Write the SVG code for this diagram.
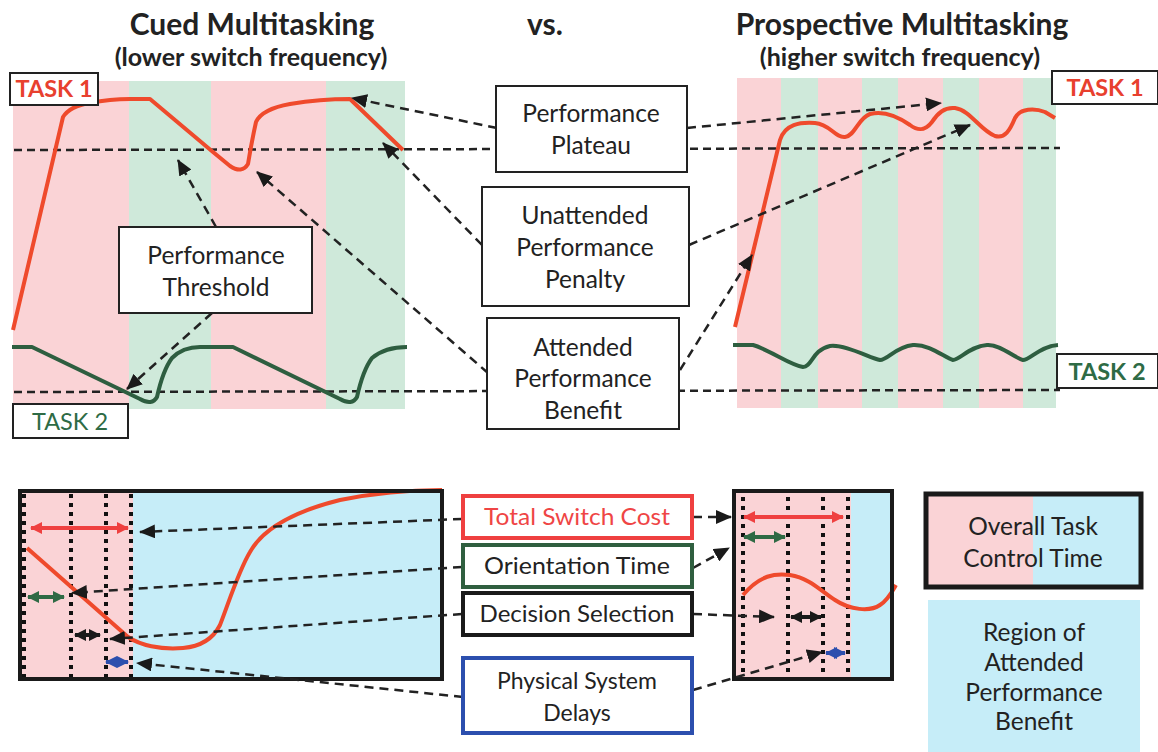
<svg xmlns="http://www.w3.org/2000/svg" width="1158" height="752" viewBox="0 0 1158 752">
<style>
text{font-family:Lato,"Open Sans","Liberation Sans",sans-serif;fill:#222;}
.t{font-size:24.5px;text-anchor:middle;}
.b{font-size:23px;text-anchor:middle;}
.title{font-size:30px;font-weight:bold;text-anchor:middle;}
.sub{font-size:25px;font-weight:bold;text-anchor:middle;}
.tk{font-size:23.5px;text-anchor:middle;}
.box{fill:#fff;stroke:#222;stroke-width:2;}
.pink{fill:#fad3d6;}
.green{fill:#cfe9da;}
.blue{fill:#c6edf8;}
.hd{fill:none;stroke:#222;stroke-width:2.5;stroke-dasharray:8 5;}
.ar{fill:none;stroke:#222;stroke-width:2.5;stroke-dasharray:9 6;marker-end:url(#ah);}
.red{fill:none;stroke:#ef4a2c;stroke-width:4;stroke-linejoin:round;}
.grn{fill:none;stroke:#2e5e40;stroke-width:4;stroke-linejoin:round;}
.dot{stroke:#111;stroke-width:4;stroke-dasharray:4 5;}
</style>
<defs>
<marker id="ah" markerUnits="userSpaceOnUse" markerWidth="16" markerHeight="14" viewBox="0 0 16 14" refX="15" refY="7" orient="auto"><path d="M0,0 L16,7 L0,14 z" fill="#1a1a1a"/></marker>
<marker id="dr" markerUnits="userSpaceOnUse" markerWidth="12" markerHeight="12" viewBox="0 0 12 12" refX="11" refY="6" orient="auto-start-reverse"><path d="M0,0 L12,6 L0,12 z" fill="#ef4040"/></marker>
<marker id="dg" markerUnits="userSpaceOnUse" markerWidth="12" markerHeight="12" viewBox="0 0 12 12" refX="11" refY="6" orient="auto-start-reverse"><path d="M0,0 L12,6 L0,12 z" fill="#2f6a45"/></marker>
<marker id="dk" markerUnits="userSpaceOnUse" markerWidth="12" markerHeight="12" viewBox="0 0 12 12" refX="11" refY="6" orient="auto-start-reverse"><path d="M0,0 L12,6 L0,12 z" fill="#1a1a1a"/></marker>
<marker id="db" markerUnits="userSpaceOnUse" markerWidth="12" markerHeight="12" viewBox="0 0 12 12" refX="11" refY="6" orient="auto-start-reverse"><path d="M0,0 L12,6 L0,12 z" fill="#2c4fae"/></marker>
</defs>

<g id="titles">
<text class="title" x="252" y="35">Cued Multitasking</text>
<text class="sub" x="251" y="66">(lower switch frequency)</text>
<text class="title" x="545" y="35">vs.</text>
<text class="title" x="902" y="35">Prospective Multitasking</text>
<text class="sub" x="900" y="66">(higher switch frequency)</text>
</g>

<g id="cued-panel">
<rect class="pink" x="13" y="81" width="116" height="328"/>
<rect class="green" x="129" y="81" width="82" height="328"/>
<rect class="pink" x="211" y="81" width="115" height="328"/>
<rect class="green" x="326" y="81" width="79" height="328"/>
</g>
<g id="prospective-panel">
<rect class="pink" x="737" y="78" width="44" height="330"/>
<rect class="green" x="781" y="78" width="37" height="330"/>
<rect class="pink" x="818" y="78" width="44" height="330"/>
<rect class="green" x="862" y="78" width="36" height="330"/>
<rect class="pink" x="898" y="78" width="45" height="330"/>
<rect class="green" x="943" y="78" width="36" height="330"/>
<rect class="pink" x="979" y="78" width="44" height="330"/>
<rect class="green" x="1023" y="78" width="33" height="330"/>
</g>

<g id="thresholds">
<line class="hd" x1="14" y1="150" x2="1060" y2="148"/>
<line class="hd" x1="14" y1="392" x2="1060" y2="390"/>
</g>

<g id="curves">
<path class="red" d="M13,330 L63,117 Q70,106 90,103 Q110,99 130,99 L150,99 L213,152 L230,166 Q242,174 248,164 Q252,140 256,122 Q262,109 290,104 Q320,99 350,99 L403,150"/>
<path class="grn" d="M12,347 L32,347 L140,399 Q152,406 157,397 Q163,370 172,358 Q183,347 200,347 L233,347 L340,399 Q352,406 357,397 Q363,370 372,358 Q385,347 407,347"/>
<path class="red" d="M735,327 L780,140 C785,124 800,122 815,123 C830,124 835,138 845,137 C855,136 858,118 870,114 C885,110 900,118 910,125 C918,131 925,131 932,122 C938,112 945,107 955,108 C970,110 980,130 995,136 C1005,139 1010,130 1015,118 C1020,108 1035,108 1045,112 L1055,118"/>
<path class="grn" d="M733,345 L753,345 C770,350 790,365 803,367 C812,367 812,350 830,346 C845,344 870,358 880,360 C888,360 895,347 913,345 C930,344 945,358 953,360 C960,360 970,346 987,345 C1000,344 1015,358 1023,360 C1030,360 1040,346 1058,345"/>
</g>

<g id="cued-switch-panel">
<rect class="pink" x="20" y="492" width="113" height="186"/>
<rect class="blue" x="133" y="492" width="308" height="186"/>
<line class="dot" x1="24" y1="494" x2="24" y2="678"/>
<line class="dot" x1="71" y1="494" x2="71" y2="678"/>
<line class="dot" x1="106" y1="494" x2="106" y2="678"/>
<line class="dot" x1="131" y1="494" x2="131" y2="678"/>
<path class="red" d="M27,548 L128,637 C140,645 160,650 183,648 C205,646 215,635 220,625 C228,605 238,572 250,552 C265,525 300,510 340,500 C380,492 420,490 442,490"/>
<line x1="31" y1="528" x2="128" y2="528" stroke="#ef4040" stroke-width="4" marker-start="url(#dr)" marker-end="url(#dr)"/>
<line x1="28" y1="597" x2="64" y2="597" stroke="#2f6a45" stroke-width="4" marker-start="url(#dg)" marker-end="url(#dg)"/>
<line x1="75" y1="635" x2="100" y2="635" stroke="#1a1a1a" stroke-width="4" marker-start="url(#dk)" marker-end="url(#dk)"/>
<line x1="106" y1="662" x2="128" y2="662" stroke="#2c4fae" stroke-width="4" marker-start="url(#db)" marker-end="url(#db)"/>
<rect x="20" y="491" width="422" height="188" fill="none" stroke="#1a1a1a" stroke-width="4"/>
</g>

<g id="prospective-switch-panel">
<rect class="pink" x="735" y="492" width="116" height="186"/>
<rect class="blue" x="851" y="492" width="40" height="186"/>
<line class="dot" x1="743" y1="497" x2="743" y2="678"/>
<line class="dot" x1="788" y1="497" x2="788" y2="678"/>
<line class="dot" x1="823" y1="497" x2="823" y2="678"/>
<line class="dot" x1="848" y1="497" x2="848" y2="678"/>
<line x1="744" y1="517" x2="843" y2="517" stroke="#ef4040" stroke-width="4" marker-start="url(#dr)" marker-end="url(#dr)"/>
<line x1="744" y1="537" x2="785" y2="537" stroke="#2f6a45" stroke-width="4" marker-start="url(#dg)" marker-end="url(#dg)"/>
<line x1="791" y1="617" x2="821" y2="617" stroke="#1a1a1a" stroke-width="4" marker-start="url(#dk)" marker-end="url(#dk)"/>
<line x1="826" y1="653" x2="845" y2="653" stroke="#2c4fae" stroke-width="4" marker-start="url(#db)" marker-end="url(#db)"/>
<path class="red" d="M743,595 C760,575 775,573 790,575 C810,578 822,592 835,600 C850,610 870,612 880,605 C888,600 893,590 896,585"/>
<rect x="734" y="491" width="158" height="188" fill="none" stroke="#1a1a1a" stroke-width="4"/>
</g>

<g id="connectors">
<path class="ar" d="M497,128 L352,98"/>
<path class="ar" d="M482,245 L383,143"/>
<path class="ar" d="M488,373 L257,172"/>
<path class="ar" d="M216,227 L178,160"/>
<path class="ar" d="M212,313 L127,389"/>
<path class="ar" d="M687,128 L941,103"/>
<path class="ar" d="M689,245 L970,125"/>
<path class="ar" d="M680,370 L752,255"/>
<path class="ar" d="M462,519 L140,532"/>
<path class="ar" d="M462,567 L72,593"/>
<path class="ar" d="M462,614 L110,639"/>
<path class="ar" d="M463,697 L137,663"/>
<path class="ar" d="M693,517 L731,517"/>
<path class="ar" d="M693,568 L729,548"/>
<path class="ar" d="M693,614 L774,617"/>
<path class="ar" d="M693,690 L822,652"/>
</g>

<g id="task1-left"><rect class="box" x="10" y="73" width="88" height="32"/><text class="tk" x="54" y="97" style="font-weight:bold;fill:#e8402e">TASK 1</text></g>
<g id="task2-left"><rect class="box" x="13" y="404" width="115" height="34"/><text class="tk" x="70" y="430" style="fill:#2e6b45">TASK 2</text></g>
<g id="task1-right"><rect class="box" x="1052" y="71" width="106" height="33"/><text class="tk" x="1105" y="96" style="font-weight:bold;fill:#e8402e">TASK 1</text></g>
<g id="task2-right"><rect class="box" x="1057" y="354" width="101" height="34"/><text class="tk" x="1107" y="380" style="font-weight:bold;fill:#2e6b45">TASK 2</text></g>

<g id="threshold-box"><rect class="box" x="119" y="227" width="193" height="86"/><text class="t" x="216" y="264">Performance</text><text class="t" x="216" y="296">Threshold</text></g>
<g id="plateau-box"><rect class="box" x="496" y="86" width="191" height="86"/><text class="t" x="591" y="122">Performance</text><text class="t" x="591" y="154">Plateau</text></g>
<g id="penalty-box"><rect class="box" x="482" y="187" width="207" height="119"/><text class="t" x="585" y="224">Unattended</text><text class="t" x="585" y="256">Performance</text><text class="t" x="585" y="288">Penalty</text></g>
<g id="benefit-box"><rect class="box" x="487" y="318" width="192" height="111"/><text class="t" x="583" y="356">Attended</text><text class="t" x="583" y="387">Performance</text><text class="t" x="583" y="419">Benefit</text></g>

<g id="total-switch-cost"><rect x="463" y="496" width="229" height="42" fill="#fff" stroke="#ef4040" stroke-width="4"/><text class="b" x="577" y="525" textLength="186" lengthAdjust="spacingAndGlyphs" style="fill:#ef4545">Total Switch Cost</text></g>
<g id="orientation-time"><rect x="463" y="545" width="229" height="42" fill="#fff" stroke="#2f5f3f" stroke-width="4"/><text class="b" x="577" y="574" textLength="186" lengthAdjust="spacingAndGlyphs">Orientation Time</text></g>
<g id="decision-selection"><rect x="463" y="593" width="229" height="42" fill="#fff" stroke="#1a1a1a" stroke-width="4"/><text class="b" x="577" y="622" textLength="195" lengthAdjust="spacingAndGlyphs">Decision Selection</text></g>
<g id="physical-delays"><rect x="463" y="658" width="229" height="75" fill="#fff" stroke="#2c4fae" stroke-width="4"/><text class="b" x="577" y="689">Physical System</text><text class="b" x="577" y="721">Delays</text></g>

<g id="legend-overall">
<rect class="pink" x="926" y="494" width="107" height="93"/>
<rect class="blue" x="1033" y="494" width="108" height="93"/>
<rect x="926" y="494" width="215" height="93" fill="none" stroke="#1a1a1a" stroke-width="5"/>
<text class="t" x="1033" y="535">Overall Task</text>
<text class="t" x="1033" y="567">Control Time</text>
</g>
<g id="legend-region">
<rect class="blue" x="928" y="600" width="212" height="152"/>
<text class="t" x="1034" y="641">Region of</text>
<text class="t" x="1034" y="671">Attended</text>
<text class="t" x="1034" y="701">Performance</text>
<text class="t" x="1034" y="730">Benefit</text>
</g>
</svg>
